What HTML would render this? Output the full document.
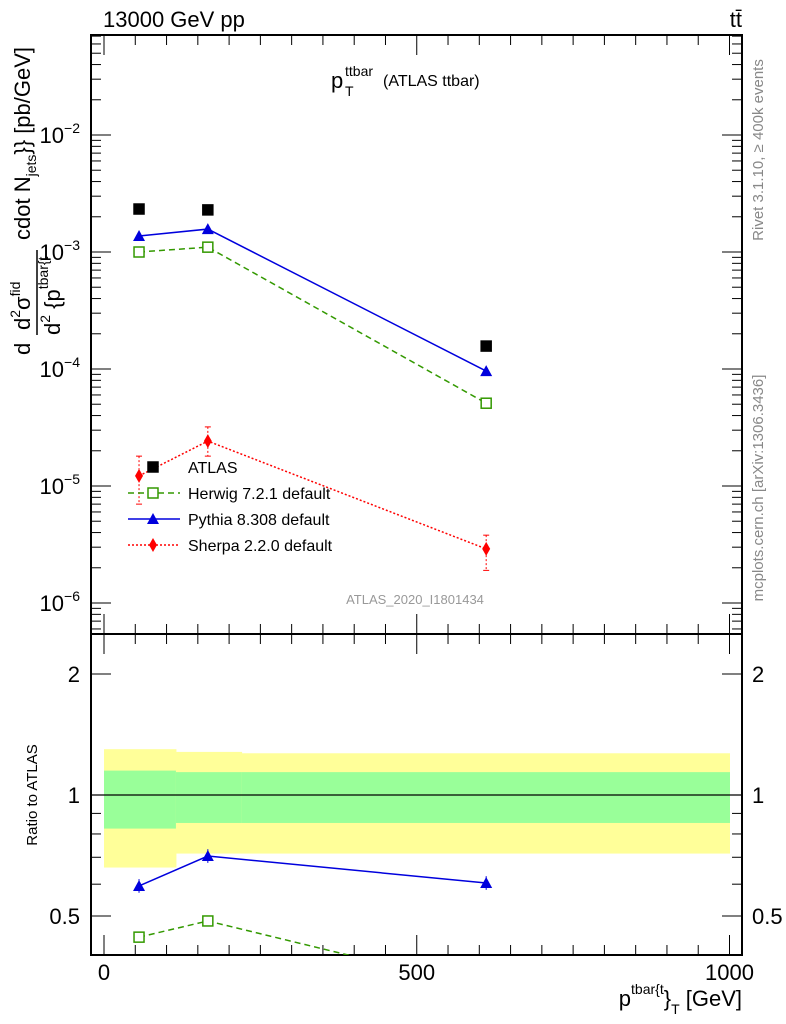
<!DOCTYPE html>
<html><head><meta charset="utf-8"><style>
html,body{margin:0;padding:0;background:#fff;}
svg{display:block;font-family:"Liberation Sans",sans-serif;}
</style></head><body>
<svg id="c" width="786" height="1024" viewBox="0 0 786 1024" xmlns="http://www.w3.org/2000/svg">
<text x="103" y="27" font-size="22">13000 GeV pp</text>
<text x="742" y="27" font-size="22" text-anchor="end">tt̄</text>
<g>
<text x="331" y="88" font-size="22">p</text>
<text x="345" y="76" font-size="14">ttbar</text>
<text x="345" y="96" font-size="14">T</text>
<text x="383" y="86" font-size="16">(ATLAS ttbar)</text>
</g>
<text x="415" y="604" font-size="13" fill="#999" text-anchor="middle">ATLAS_2020_I1801434</text>
<text transform="translate(763,150) rotate(-90)" font-size="15" fill="#888" text-anchor="middle">Rivet 3.1.10, ≥ 400k events</text>
<text transform="translate(763,488) rotate(-90)" font-size="15" fill="#888" text-anchor="middle">mcplots.cern.ch [arXiv:1306.3436]</text>
<g>
<text transform="translate(30,355) rotate(-90)" font-size="22">d</text>
<text transform="translate(30,330) rotate(-90)" font-size="22">d<tspan font-size="14" dy="-10">2</tspan><tspan dy="10">σ</tspan><tspan font-size="14" dy="-10">fid</tspan></text>
<line x1="37" y1="335" x2="37" y2="250" stroke="#000" stroke-width="1.5"/>
<text transform="translate(60,335) rotate(-90)" font-size="22">d<tspan font-size="14" dy="-10">2</tspan><tspan dy="10"> {p</tspan><tspan font-size="14" dy="-12">tbar{t</tspan></text>
<text transform="translate(30,240) rotate(-90)" font-size="22">cdot N<tspan font-size="14" dy="6">jets</tspan><tspan dy="-6">}} [pb/GeV]</tspan></text>
</g>
<text transform="translate(37,795) rotate(-90)" font-size="15" text-anchor="middle">Ratio to ATLAS</text>
<text x="742" y="1006" font-size="22" text-anchor="end">p<tspan font-size="14" dy="-12">tbar{t</tspan><tspan dy="12">}</tspan><tspan font-size="14" dy="8">T</tspan><tspan dy="-8"> [GeV]</tspan></text>
<g id="g"></g>
</svg>
<script>
const xBins=[[0,115],[115,220],[220,1000]];
const xVals=[56,166,611];
const atlas=[2.33e-3,2.29e-3,1.57e-4];
const herwig=[1.0e-3,1.10e-3,5.1e-5];
const pythia=[1.37e-3,1.57e-3,9.6e-5];
const sherpa=[1.22e-5,2.42e-5,2.9e-6];
const sherpaErrLo=[0.7e-5,1.8e-5,1.9e-6];
const sherpaErrHi=[1.8e-5,3.2e-5,3.8e-6];
const bandYellowLo=[0.66,0.715,0.715];
const bandYellowHi=[1.30,1.28,1.27];
const bandGreenLo=[0.825,0.852,0.852];
const bandGreenHi=[1.15,1.14,1.14];
const pythiaRatio=[0.594,0.705,0.604];
const herwigRatio=[0.443,0.486,0.33];
const xTicks=[0,500,1000];
const yTickExp=[-2,-3,-4,-5,-6];
const rTicks=[0.5,1,2];

const NS="http://www.w3.org/2000/svg";
const g=document.getElementById('g');
const L=91,R=742,T=35,M=634,B=955;
const X=v=>104+0.6255*v;
const Y=v=>252-117*(Math.log10(v)+3);
const YR=v=>795-402*Math.log10(v);
function el(t,a,name,p){const e=document.createElementNS(NS,t);for(const k in a)e.setAttribute(k,a[k]);(p||g).appendChild(e);return e;}
const clipR=el('clipPath',{id:'cr'},'ratio-clip');el('rect',{x:L,y:M,width:R-L,height:B-M},'clip-rect',clipR);
const clipT=el('clipPath',{id:'ct'},'top-clip');el('rect',{x:L,y:T,width:R-L,height:M-T},'clip-rect',clipT);
xBins.forEach((b,i)=>{
 el('rect',{x:X(b[0]),y:YR(bandYellowHi[i]),width:X(b[1])-X(b[0])+0.5,height:YR(bandYellowLo[i])-YR(bandYellowHi[i]),fill:'#ffff99'},'band-yellow');
 el('rect',{x:X(b[0]),y:YR(bandGreenHi[i]),width:X(b[1])-X(b[0])+0.5,height:YR(bandGreenLo[i])-YR(bandGreenHi[i]),fill:'#99ff99'},'band-green');
});
el('line',{x1:L,x2:R,y1:YR(1),y2:YR(1),stroke:'#000','stroke-width':1.2},'ratio-unity-line');
el('rect',{x:L,y:T,width:R-L,height:M-T,fill:'none',stroke:'#000','stroke-width':2},'top-frame');
el('rect',{x:L,y:M,width:R-L,height:B-M,fill:'none',stroke:'#000','stroke-width':2},'ratio-frame');
for(let v=0;v<=1000;v+=50){const big=v%500==0;const h=big?20:10;
 [[T,1],[M,-1],[M,1],[B,-1]].forEach(([y0,d])=>el('line',{x1:X(v),x2:X(v),y1:y0,y2:y0+d*h,stroke:'#000'},'x-tick'));}
xTicks.forEach(v=>{const t=el('text',{x:X(v),y:980,'font-size':22,'text-anchor':'middle'},'x-tick-label');t.textContent=v;});
for(let e=-7;e<=-1;e++)for(let m=1;m<=9;m++){const v=m*Math.pow(10,e);const y=Y(v);if(y<T||y>M)continue;const h=m==1?20:10;
 el('line',{x1:L,x2:L+h,y1:y,y2:y,stroke:'#000'},'y-tick');el('line',{x1:R,x2:R-h,y1:y,y2:y,stroke:'#000'},'y-tick');}
yTickExp.forEach(e=>{const t=el('text',{x:80,y:Y(Math.pow(10,e))+8,'font-size':22,'text-anchor':'end'},'y-tick-label');t.innerHTML='10<tspan font-size="14" dy="-10">'+(e<0?'−'+(-e):e)+'</tspan>';});
for(let e=-1;e<=0;e++)for(let m=1;m<=9;m++){const v=m*Math.pow(10,e);const y=YR(v);if(y<M||y>B)continue;const h=(v==0.5||v==1||v==2)?20:10;
 el('line',{x1:L,x2:L+h,y1:y,y2:y,stroke:'#000'},'ratio-tick');el('line',{x1:R,x2:R-h,y1:y,y2:y,stroke:'#000'},'ratio-tick');}
rTicks.forEach(v=>{const t=el('text',{x:80,y:YR(v)+8,'font-size':22,'text-anchor':'end'},'ratio-tick-label');t.textContent=v;
 const t2=el('text',{x:752,y:YR(v)+8,'font-size':22},'ratio-tick-label-right');t2.textContent=v;});
function sq(x,y,c,fill,name,p){el('rect',{x:x-5,y:y-5,width:10,height:10,fill:fill?c:'#fff',stroke:c,'stroke-width':1.5},name,p);}
function tri(x,y,c,name,p){el('polygon',{points:`${x},${y-6} ${x-6},${y+5} ${x+6},${y+5}`,fill:c},name,p);}
function dia(x,y,c,name,p){el('polygon',{points:`${x},${y-7} ${x-4},${y} ${x},${y+7} ${x+4},${y}`,fill:c},name,p);}
function line(vals,fy,c,dash,name,p){el('polyline',{points:vals.map((v,i)=>X(xVals[i])+','+fy(v)).join(' '),fill:'none',stroke:c,'stroke-width':1.5,'stroke-dasharray':dash||''},name,p);}
const gt=el('g',{'clip-path':'url(#ct)'},'top-series');
line(herwig,Y,'#339900','6,4','herwig-line',gt);
line(pythia,Y,'#0000dd','','pythia-line',gt);
line(sherpa,Y,'#ff0000','2,2','sherpa-line',gt);
sherpa.forEach((v,i)=>{const x=X(xVals[i]);el('line',{x1:x,x2:x,y1:Y(sherpaErrHi[i]),y2:Y(sherpaErrLo[i]),stroke:'#f00','stroke-dasharray':'2,2'},'sherpa-errbar',gt);
 el('line',{x1:x-3,x2:x+3,y1:Y(sherpaErrHi[i]),y2:Y(sherpaErrHi[i]),stroke:'#f00'},'sherpa-errcap',gt);el('line',{x1:x-3,x2:x+3,y1:Y(sherpaErrLo[i]),y2:Y(sherpaErrLo[i]),stroke:'#f00'},'sherpa-errcap',gt);
 dia(x,Y(v),'#ff0000','sherpa-point',gt);});
herwig.forEach((v,i)=>sq(X(xVals[i]),Y(v),'#339900',false,'herwig-point',gt));
pythia.forEach((v,i)=>tri(X(xVals[i]),Y(v),'#0000dd','pythia-point',gt));
atlas.forEach((v,i)=>sq(X(xVals[i]),Y(v),'#000',true,'atlas-point',gt));
const gr=el('g',{'clip-path':'url(#cr)'},'ratio-series');
line(herwigRatio,YR,'#339900','6,4','herwig-ratio-line',gr);
line(pythiaRatio,YR,'#0000dd','','pythia-ratio-line',gr);
pythiaRatio.forEach((v,i)=>{const x=X(xVals[i]);el('line',{x1:x,x2:x,y1:YR(v*1.04),y2:YR(v/1.04),stroke:'#00d'},'pythia-ratio-err',gr);tri(x,YR(v),'#0000dd','pythia-ratio-point',gr);});
herwigRatio.forEach((v,i)=>sq(X(xVals[i]),YR(v),'#339900',false,'herwig-ratio-point',gr));
const items=[['ATLAS','#000'],['Herwig 7.2.1 default','#339900'],['Pythia 8.308 default','#0000dd'],['Sherpa 2.2.0 default','#ff0000']];
items.forEach((it,i)=>{const y=467+i*26;const lg=el('g',{},'legend-entry');
 if(i==0)sq(153,y,'#000',true,'legend-marker',lg);
 else{el('line',{x1:128,x2:180,y1:y,y2:y,stroke:it[1],'stroke-width':1.5,'stroke-dasharray':i==1?'6,4':(i==3?'2,2':'')},'legend-line',lg);
 if(i==1)sq(153,y,it[1],false,'legend-marker',lg);if(i==2)tri(153,y,it[1],'legend-marker',lg);if(i==3)dia(153,y,it[1],'legend-marker',lg);}
 const t=el('text',{x:188,y:y+6,'font-size':16},'legend-label',lg);t.textContent=it[0];});
</script>
</body></html>
